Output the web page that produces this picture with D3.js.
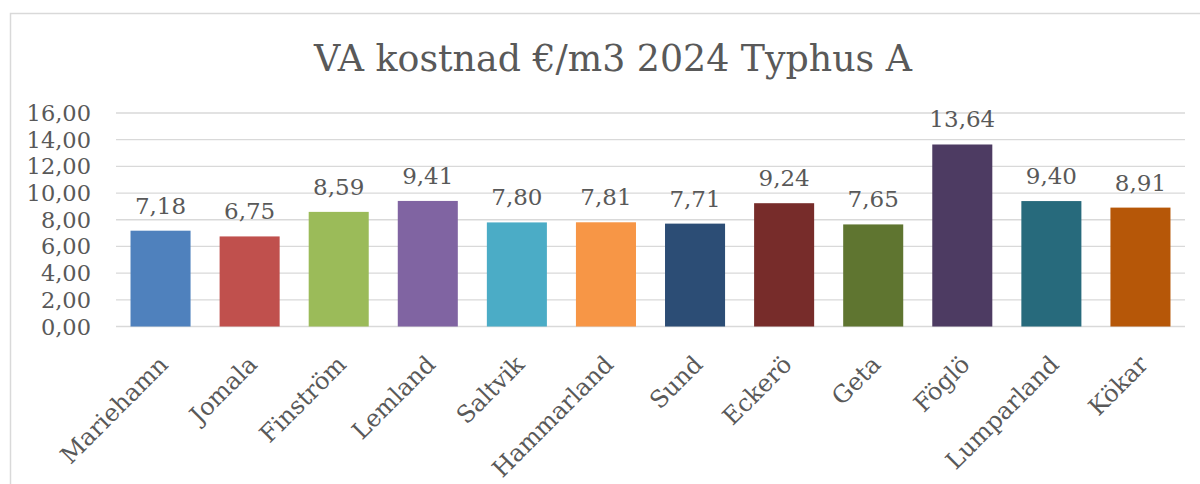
<!DOCTYPE html>
<html>
<head>
<meta charset="utf-8">
<script src="https://cdn.jsdelivr.net/npm/d3@7"></script>
<style>
  body { margin: 0; background: #fff; }
  text { font-family: 'DejaVu Serif', serif; fill: #595959; }
</style>
</head>
<body>
<div id="chart"></div>
<script>
var categories = ['Mariehamn', 'Jomala', 'Finström', 'Lemland', 'Saltvik', 'Hammarland',
  'Sund', 'Eckerö', 'Geta', 'Föglö', 'Lumparland', 'Kökar']
var values = [7.18, 6.75, 8.59, 9.41, 7.80, 7.81, 7.71, 9.24, 7.65, 13.64, 9.40, 8.91]
var barColors = ['#4F81BD', '#C0504D', '#9BBB59', '#8064A2', '#4BACC6', '#F79646',
  '#2C4D75', '#772C2A', '#5F7530', '#4D3B62', '#276A7C', '#B65708']
var yTicks = [0, 2, 4, 6, 8, 10, 12, 14, 16]
var title = 'VA kostnad €/m3 2024 Typhus A'

var width = 1200
var height = 484
var margin = { top: 113, left: 116, right: 15, bottom: 158 }

var svg = d3.select('#chart')
  .append('svg')
  .attr('width', width)
  .attr('height', height)

// chart frame
svg.append('rect')
  .attr('x', 10.5)
  .attr('y', 13.5)
  .attr('width', width + 20)
  .attr('height', height + 20)
  .attr('fill', 'none')
  .attr('stroke', '#d9d9d9')
  .attr('stroke-width', 1.5)

var fmt = function(v) { return d3.format('.2f')(v).replace('.', ',') }

var x = d3.scaleBand()
  .domain(categories)
  .range([margin.left, width - margin.right])
  .paddingInner(0.326)
  .paddingOuter(0.163)

var y = d3.scaleLinear()
  .domain([0, 16])
  .range([height - margin.bottom + 0.5, margin.top])

// gridlines
svg.append('g')
  .selectAll('line')
  .data(yTicks)
  .enter().append('line')
  .attr('x1', margin.left)
  .attr('x2', width - margin.right)
  .attr('y1', d => y(d))
  .attr('y2', d => y(d))
  .attr('stroke', '#d9d9d9')
  .attr('stroke-width', d => d === 0 ? 1.6 : 1.3)

// y tick labels
svg.append('g')
  .selectAll('text')
  .data(yTicks)
  .enter().append('text')
  .attr('x', 91)
  .attr('y', d => y(d) + 8)
  .attr('text-anchor', 'end')
  .style('font-size', '22.5px')
  .text(d => fmt(d))

// bars
svg.append('g')
  .selectAll('rect')
  .data(values)
  .enter().append('rect')
  .attr('x', (d, i) => x(categories[i]))
  .attr('y', d => y(d))
  .attr('width', x.bandwidth())
  .attr('height', d => y(0) - y(d))
  .attr('fill', (d, i) => barColors[i])

// value labels
svg.append('g')
  .selectAll('text')
  .data(values)
  .enter().append('text')
  .attr('x', (d, i) => x(categories[i]) + x.bandwidth() / 2)
  .attr('y', d => y(d) - 17)
  .attr('text-anchor', 'middle')
  .style('font-size', '23px')
  .text(d => fmt(d))

// category labels, rotated
svg.append('g')
  .selectAll('text')
  .data(categories)
  .enter().append('text')
  .attr('transform', d => {
    var cx = x(d) + x.bandwidth() / 2 + 9
    return 'translate(' + cx + ',' + 366 + ') rotate(-45)'
  })
  .attr('text-anchor', 'end')
  .style('font-size', '24px')
  .text(d => d)

// title
svg.append('text')
  .attr('x', 613)
  .attr('y', 71)
  .attr('text-anchor', 'middle')
  .attr('textLength', 598)
  .attr('lengthAdjust', 'spacingAndGlyphs')
  .style('font-size', '38px')
  .text(title)
</script>
</body>
</html>
